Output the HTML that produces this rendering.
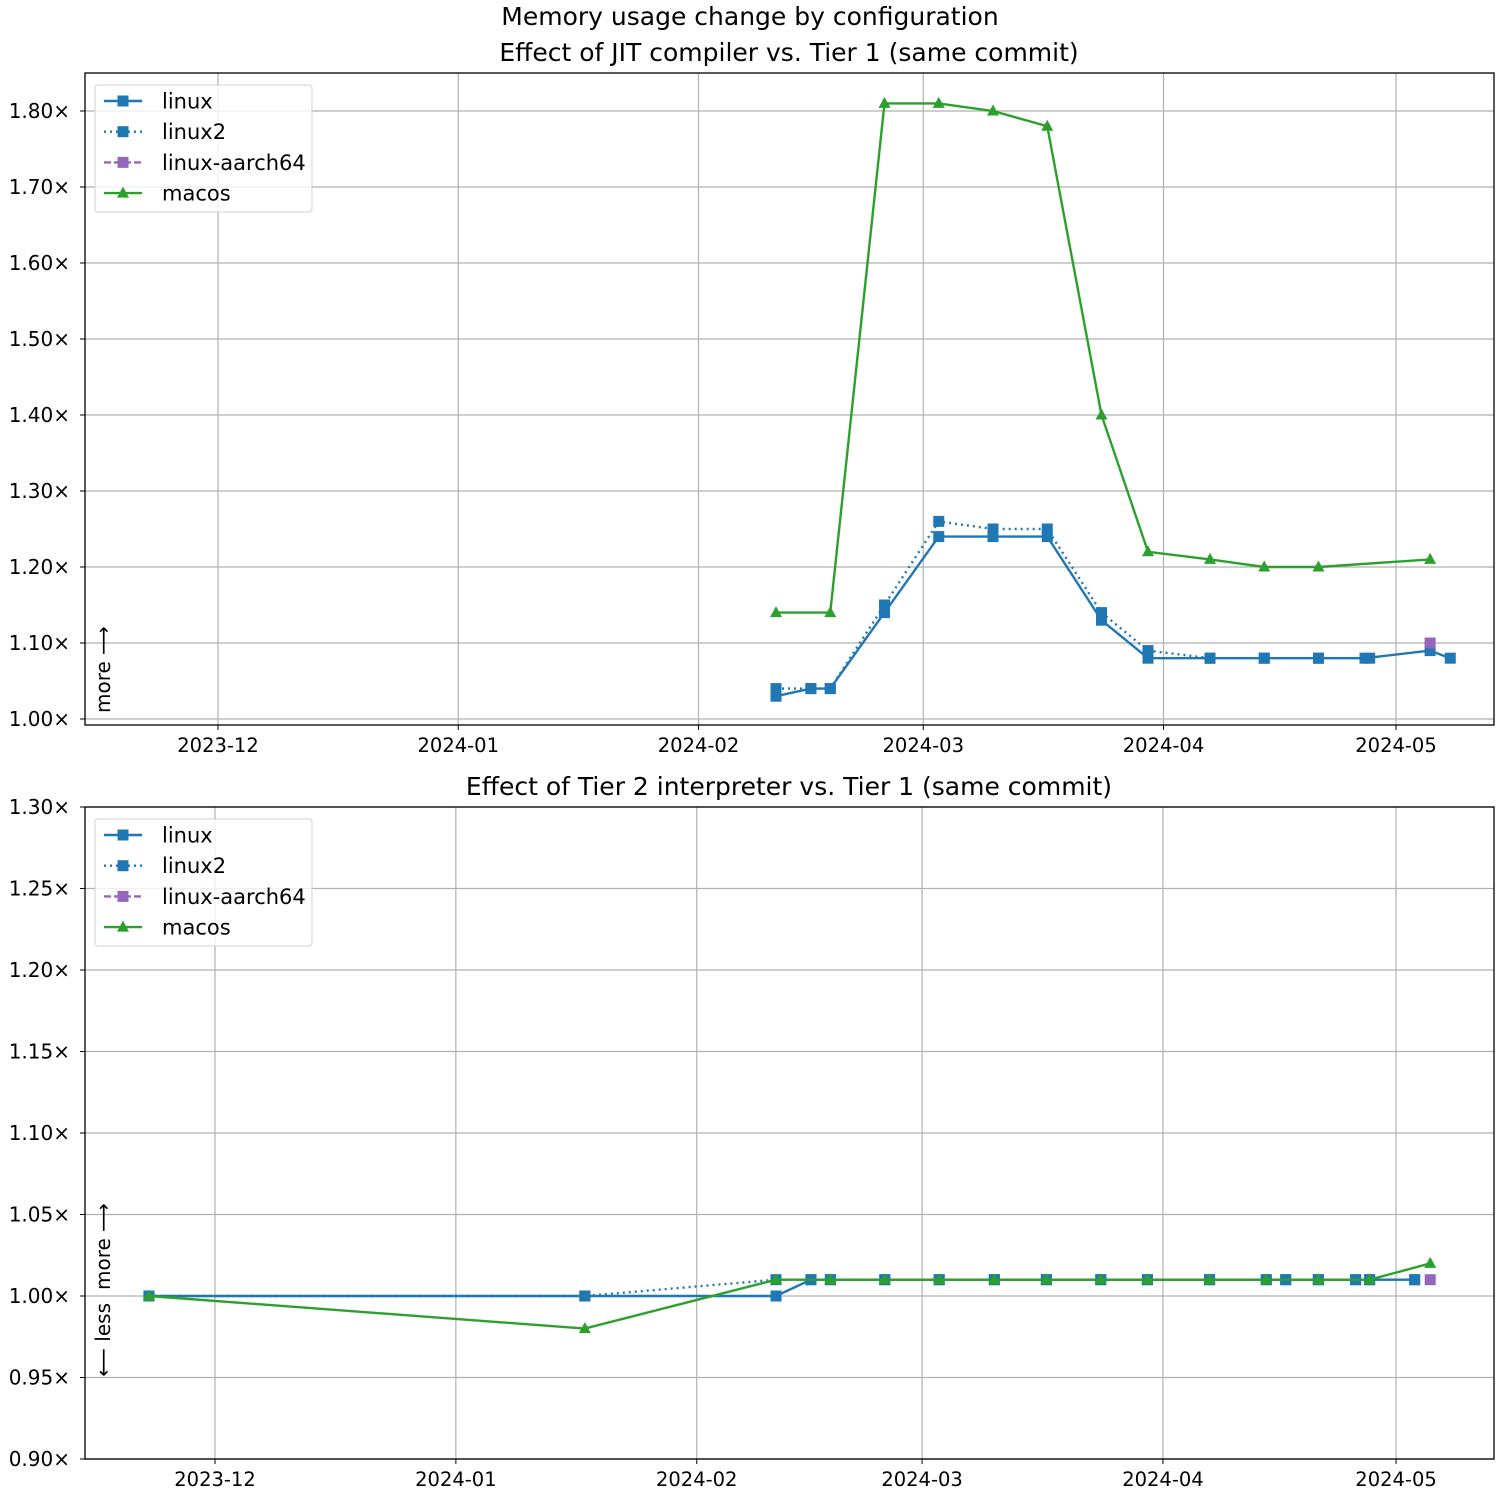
<!DOCTYPE html>
<html><head><meta charset="utf-8"><style>
html,body{margin:0;padding:0;background:#fff}
svg text{font-family:"DejaVu Sans","Liberation Sans",sans-serif;fill:#000}
</style></head><body>
<svg id="c" width="1500" height="1500" viewBox="0 0 1500 1500" xmlns="http://www.w3.org/2000/svg">
<text x="750" y="25" font-size="25" text-anchor="middle">Memory usage change by configuration</text>
</svg>
<script>
// day offsets from 2023-12-01
const topDays = [72,76.5,79,86,93,100,107,114,120,128,135,142,148,156.4,159];
const topLinux = [1.03,1.04,1.04,1.14,1.24,1.24,1.24,1.13,1.08,1.08,1.08,1.08,1.08,1.09,1.08];
const topLinux2Days = [72,76.5,79,86,93,100,107,114,120,128,135,142,148.6];
const topLinux2 = [1.04,1.04,1.04,1.15,1.26,1.25,1.25,1.14,1.09,1.08,1.08,1.08,1.08];
const topAarchDays = [156.4];
const topAarch = [1.10];
const topMacDays = [72,79,86,93,100,107,114,120,128,135,142,156.4];
const topMac = [1.14,1.14,1.81,1.81,1.80,1.78,1.40,1.22,1.21,1.20,1.20,1.21];
const topYTicks = [1.0,1.1,1.2,1.3,1.4,1.5,1.6,1.7,1.8];

const botLinuxDays = [-8.5,47.6,72.2,76.7,79.2,86.2,93.2,100.3,107,114,120,128,135.3,137.8,142,146.8,148.6,154.4];
const botLinux = [1.00,1.00,1.00,1.01,1.01,1.01,1.01,1.01,1.01,1.01,1.01,1.01,1.01,1.01,1.01,1.01,1.01,1.01];
const botLinux2Days = [-8.5,47.6,72.2,76.7,79.2,86.2,93.2,100.3,107,114,120,128,135.3,137.8,142,146.8,148.6,154.4];
const botLinux2 = [1.00,1.00,1.01,1.01,1.01,1.01,1.01,1.01,1.01,1.01,1.01,1.01,1.01,1.01,1.01,1.01,1.01,1.01];
const botAarchDays = [156.4];
const botAarch = [1.01];
const botMacDays = [-8.5,47.6,72.2,79.2,86.2,93.2,100.3,107,114,120,128,135.3,142,148.6,156.4];
const botMac = [1.00,0.98,1.01,1.01,1.01,1.01,1.01,1.01,1.01,1.01,1.01,1.01,1.01,1.01,1.02];
const botYTicks = [0.90,0.95,1.00,1.05,1.10,1.15,1.20,1.25,1.30];

const monthDays = [0,31,62,91,122,152];
const monthLabels = ["2023-12","2024-01","2024-02","2024-03","2024-04","2024-05"];

const svg = document.getElementById('c');
const NS = 'http://www.w3.org/2000/svg';
function mk(tag, attrs, parent){const e=document.createElementNS(NS,tag);for(const k in attrs)e.setAttribute(k,attrs[k]);(parent||svg).appendChild(e);return e;}

function panel(cfg){
  const g = mk('g',{});
  
  
  const X = d => cfg.x0 + cfg.pxDay*d;
  const Y = v => cfg.y1 + (v - cfg.v1)*(cfg.y2 - cfg.y1)/(cfg.v2 - cfg.v1);
  const L=85,R=1494;
  monthDays.forEach((d,i)=>{
    const l=mk('line',{x1:X(d),x2:X(d),y1:cfg.top,y2:cfg.bot,stroke:'#b0b0b0','stroke-width':1.2},g);
    
    
    mk('line',{x1:X(d),x2:X(d),y1:cfg.bot,y2:cfg.bot+5,stroke:'#000','stroke-width':1},g);
    const t=mk('text',{x:X(d),y:cfg.bot+27,'font-size':19.5,'text-anchor':'middle'},g);
    t.textContent=monthLabels[i];
    
    
  });
  cfg.yticks.forEach(v=>{
    const y=Y(v);
    const l=mk('line',{x1:L,x2:R,y1:y,y2:y,stroke:'#b0b0b0','stroke-width':1.2},g);
    
    
    mk('line',{x1:L-5,x2:L,y1:y,y2:y,stroke:'#000','stroke-width':1},g);
    const t=mk('text',{x:L-15,y:y+7,'font-size':20,'text-anchor':'end'},g);
    t.textContent=v.toFixed(2)+'×';
    
    
  });
  cfg.series.forEach(s=>{
    const sg=mk('g',{},g);
    
    
    const pts=s.days.map((d,i)=>X(d)+','+Y(s.vals[i])).join(' ');
    if(s.days.length>1){
      const p=mk('polyline',{points:pts,fill:'none',stroke:s.color,'stroke-width':2.4,'stroke-dasharray':s.dash||'none'},sg);
      
      
    }
    s.days.forEach((d,i)=>{
      const x=X(d),y=Y(s.vals[i]);
      let m;
      if(s.marker==='s') m=mk('rect',{x:x-5.5,y:y-5.5,width:11,height:11,fill:s.color},sg);
      else m=mk('polygon',{points:`${x},${y-6.5} ${x+6},${y+4.5} ${x-6},${y+4.5}`,fill:s.color},sg);
      
      
    });
  });
  const f=mk('rect',{x:L,y:cfg.top,width:R-L,height:cfg.bot-cfg.top,fill:'none',stroke:'#000','stroke-width':1.3},g);
  
  
  const tt=mk('text',{x:789,y:cfg.top-12,'font-size':25,'text-anchor':'middle'},g);
  tt.textContent=cfg.title;
  
  
  const lg=mk('g',{},g);
  
  
  const ly=cfg.top+12;
  mk('rect',{x:95,y:ly,width:217,height:127,rx:3,fill:'#fff','fill-opacity':0.8,stroke:'#d0d0d0'},lg);
  cfg.series.forEach((s,i)=>{
    const y=ly+16+i*30.7;
    const e=mk('g',{},lg);
    
    
    mk('line',{x1:104,x2:142,y1:y,y2:y,stroke:s.color,'stroke-width':2.4,'stroke-dasharray':s.dash||'none'},e);
    if(s.marker==='s') mk('rect',{x:117.5,y:y-5.5,width:11,height:11,fill:s.color},e);
    else mk('polygon',{points:`123,${y-6.5} 129,${y+4.5} 117,${y+4.5}`,fill:s.color},e);
    const t=mk('text',{x:162,y:y+7.5,'font-size':21},e);
    t.textContent=s.label;
  });
  return {X,Y};
}

const topP = panel({name:'jit-panel',title:'Effect of JIT compiler vs. Tier 1 (same commit)',top:73,bot:725,x0:218,pxDay:7.75,v1:1.0,y1:719,v2:1.8,y2:111,yticks:topYTicks,
  series:[
    {key:'linux',label:'linux',days:topDays,vals:topLinux,color:'#1f77b4',marker:'s'},
    {key:'linux2',label:'linux2',days:topLinux2Days,vals:topLinux2,color:'#1f77b4',marker:'s',dash:'2,4'},
    {key:'linux-aarch64',label:'linux-aarch64',days:topAarchDays,vals:topAarch,color:'#9467bd',marker:'s',dash:'7,3'},
    {key:'macos',label:'macos',days:topMacDays,vals:topMac,color:'#2ca02c',marker:'t'}
  ]});
const botP = panel({name:'tier2-panel',title:'Effect of Tier 2 interpreter vs. Tier 1 (same commit)',top:807,bot:1459,x0:215,pxDay:7.77,v1:1.0,y1:1296,v2:1.3,y2:807,yticks:botYTicks,
  series:[
    {key:'linux',label:'linux',days:botLinuxDays,vals:botLinux,color:'#1f77b4',marker:'s'},
    {key:'linux2',label:'linux2',days:botLinux2Days,vals:botLinux2,color:'#1f77b4',marker:'s',dash:'2,4'},
    {key:'linux-aarch64',label:'linux-aarch64',days:botAarchDays,vals:botAarch,color:'#9467bd',marker:'s',dash:'7,3'},
    {key:'macos',label:'macos',days:botMacDays,vals:botMac,color:'#2ca02c',marker:'t'}
  ]});

let a=mk('text',{x:0,y:0,'font-size':20,'text-anchor':'start',transform:'translate(110,713) rotate(-90)'});
a.textContent='more ⟶';


a=mk('text',{x:0,y:0,'font-size':20,'text-anchor':'start',transform:'translate(110,1290) rotate(-90)'});
a.textContent='more ⟶';


a=mk('text',{x:0,y:0,'font-size':20,'text-anchor':'end',transform:'translate(110,1303) rotate(-90)'});
a.textContent='⟵ less';


</script>
</body></html>
